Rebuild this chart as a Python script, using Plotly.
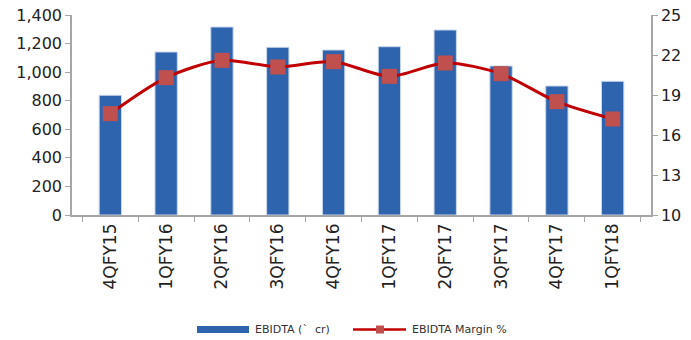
import plotly.graph_objects as go

quarters = ["4QFY15", "1QFY16", "2QFY16", "3QFY16", "4QFY16",
            "1QFY17", "2QFY17", "3QFY17", "4QFY17", "1QFY18"]
ebitda = [838, 1141, 1316, 1174, 1155, 1178, 1295, 1043, 903, 936]
margin = [17.6, 20.3, 21.6, 21.1, 21.5, 20.4, 21.4, 20.6, 18.5, 17.2]

left_ticks = [0, 200, 400, 600, 800, 1000, 1200, 1400]
right_ticks = [10, 13, 16, 19, 22, 25]

bar_name = "EBIDTA (`  cr)"
line_name = "EBIDTA Margin %"

font_family = "DejaVu Sans, Verdana, sans-serif"
axis_grey = "#a6a6a6"
bar_blue = "#2e64ae"
line_red = "#c00000"
marker_red = "#c0504d"

W, H = 691, 340
M_L, M_R, M_T, M_B = 72, 40, 15, 125
plot_w = W - M_L - M_R
plot_h = H - M_T - M_B


def px_x(px):
    return (px - M_L) / plot_w


def px_y(py):
    return (H - M_B - py) / plot_h


fig = go.Figure()
fig.add_trace(go.Bar(
    x=quarters, y=ebitda, name=bar_name,
    marker=dict(color=bar_blue, line=dict(color="#c9d7ee", width=1)),
    width=0.4,
))
fig.add_trace(go.Scatter(
    x=quarters, y=margin, name=line_name, yaxis="y2",
    mode="lines+markers",
    line=dict(color=line_red, width=3, shape="spline", smoothing=0.8),
    marker=dict(symbol="square", size=15, color=marker_red),
))

# legend drawn below the plot
shapes = [
    dict(type="rect", xref="paper", yref="paper",
         x0=px_x(197), x1=px_x(249), y0=px_y(333), y1=px_y(326),
         fillcolor=bar_blue, line=dict(width=0)),
    dict(type="line", xref="paper", yref="paper",
         x0=px_x(353), x1=px_x(406), y0=px_y(329.5), y1=px_y(329.5),
         line=dict(color=line_red, width=2.5)),
    dict(type="rect", xref="paper", yref="paper",
         x0=px_x(376), x1=px_x(384), y0=px_y(333.5), y1=px_y(325.5),
         fillcolor=marker_red, line=dict(width=0)),
]
annotations = [
    dict(text=bar_name, xref="paper", yref="paper", x=px_x(253), y=px_y(329.5),
         xanchor="left", yanchor="middle", showarrow=False,
         font=dict(size=11, color="#333333")),
    dict(text=line_name, xref="paper", yref="paper", x=px_x(410), y=px_y(329.5),
         xanchor="left", yanchor="middle", showarrow=False,
         font=dict(size=11, color="#333333")),
]

fig.update_layout(
    width=W, height=H,
    margin=dict(l=M_L, r=M_R, t=M_T, b=M_B),
    plot_bgcolor="white", paper_bgcolor="white",
    font=dict(family=font_family, size=16, color="#222222"),
    showlegend=False,
    shapes=shapes,
    annotations=annotations,
    xaxis=dict(
        tickangle=-90, showline=True, linecolor=axis_grey, linewidth=1.5,
        ticks="outside", tickson="boundaries", tickcolor=axis_grey, ticklen=5,
        showgrid=False, tickfont=dict(size=17), automargin=False,
    ),
    yaxis=dict(
        range=[0, 1400], tickvals=left_ticks, tickformat=",",
        showline=True, linecolor=axis_grey, linewidth=1.5,
        ticks="outside", tickcolor=axis_grey, ticklen=5, showgrid=False,
        zeroline=False, tickfont=dict(size=16), automargin=False,
    ),
    yaxis2=dict(
        range=[10, 25], tickvals=right_ticks, overlaying="y", side="right",
        showline=True, linecolor=axis_grey, linewidth=1.5,
        ticks="outside", tickcolor=axis_grey, ticklen=5, showgrid=False,
        zeroline=False, tickfont=dict(size=16), automargin=False,
    ),
)

fig.write_html("out.html")
